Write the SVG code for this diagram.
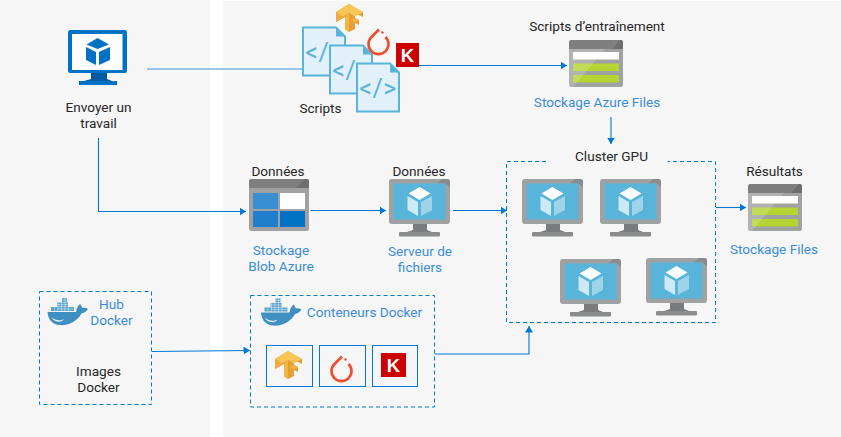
<svg xmlns="http://www.w3.org/2000/svg" width="841" height="437" viewBox="0 0 841 437">
<style>
text{font-family:Roboto,"Open Sans","Liberation Sans",sans-serif;font-size:13.6px;text-anchor:middle;fill:#262626}
.b{fill:#3b8ddb}
.dash{fill:none;stroke:#0078d7;stroke-width:1;stroke-dasharray:4 3}
.c{fill:none;stroke:#0078d7;stroke-width:1.1}
.ar{marker-end:url(#arrow)}
.box{fill:none;stroke:#0078d7;stroke-width:1}
.code{font-size:25px;fill:#59b4d9;font-weight:400;letter-spacing:.5px}
.k{fill:#fff;font-weight:700;font-size:18.500px;font-family:"Liberation Sans",sans-serif}
</style>
<defs>
<marker id="arrow" markerUnits="userSpaceOnUse" markerWidth="7" markerHeight="8" refX="6.5" refY="4" orient="auto"><path d="M0 0L6.5 4L0 8Z" fill="#0078d7"/></marker>
<symbol id="vm" overflow="visible">
<path d="M24 45H38V51L43 53H18L24 51Z" fill="#7a7b7c"/>
<rect x="10" y="53" width="41" height="4.5" rx="1" fill="#8a8b8c"/>
<rect width="61" height="45" rx="3" fill="#a0a1a2"/>
<path d="M48 4.500L53 0H58Q61 0 61 3V8L56.500 4.500Z" fill="#8a8b8c"/>
<rect x="4.500" y="4.500" width="52" height="36" fill="#59b4d9"/>
<path d="M30.500 8L41.500 14.500L30.500 21L19.500 14.500Z" fill="#fff"/>
<path d="M18.500 17L29 23V37L18.500 31Z" fill="#fff" opacity=".7"/>
<path d="M32 23L43 17V31L32 37Z" fill="#fff" opacity=".42"/>
</symbol>
<symbol id="files" overflow="visible">
<rect width="54" height="47" rx="2.500" fill="#a0a1a2"/>
<path d="M0 9V2.500Q0 0 2.500 0H51.500Q54 0 54 2.500V9Z" fill="#7f7f7f"/>
<path d="M43 9L51 0H51.500Q54 0 54 2.500V9Z" fill="#6e6e6e"/>
<rect x="4" y="12" width="46" height="7.500" fill="#fff"/>
<rect x="4" y="23.500" width="46" height="7.500" fill="#b8d432"/>
<rect x="4" y="35" width="46" height="7.500" fill="#b8d432"/>
<path d="M0 9H36L4 47H2.500Q0 47 0 44.500Z" fill="#fff" opacity=".18"/>
</symbol>
<symbol id="doc" overflow="visible">
<path d="M0 0H33L42 9V48H0Z" fill="#e1f0f9" stroke="#59b4d9" stroke-width="2"/>
<path d="M33 0L42 9H33Z" fill="#59b4d9"/>
<text class="code" x="21" y="33">&lt;/&gt;</text>
</symbol>
<symbol id="tf" overflow="visible">
<path d="M0 8L13 0L27 8V13L19 9V14L23 16V21L19 19V25L13 28L9 25V13L0 18Z" fill="#e59f35"/>
<path d="M0 8L13 0L27 8L19 12.500L13 9L7 12.500Z" fill="#f8c557"/>
<path d="M13 9V28L9 25V13Z M19 14L23 16L19 18.500L15 16Z" fill="#f3b544"/>
<path d="M0 8L7 12.500V14L0 18Z" fill="#f0ad3f"/>
</symbol>
<symbol id="torch" overflow="visible">
<path d="M11.500 0.500L4 8A10 10 0 1 0 18 8" fill="none" stroke="#ee4c2c" stroke-width="2.600"/>
<circle cx="15" cy="3.500" r="1.200" fill="#ee4c2c"/>
</symbol>
<symbol id="whale" overflow="visible">
<path d="M0.500 14H29C29.500 10 31 8 33 6C34.500 8 35 9 35.500 10C37.500 9.500 39.500 10 41 11C39 14 36.500 15 34.500 15.500C30 24 20 28 12 27C4 26 1 20 0.500 14Z" fill="#3f8fc0"/>
<path d="M4 19C9 23 14 23 17 21C15 25 8 25 4 19Z" fill="#fff" opacity=".85"/>
<path d="M4 9H27V13H4ZM10 4.500H21V8.500H10ZM15 0H20V4H15Z" fill="#5ba3cf"/>
<path d="M7.500 9V13M11 4.500V13M14.500 4.500V13M18 0V13M21.500 9V13M10 11H27M10 6.500H21M15 2H20" stroke="#fff" stroke-width=".4" fill="none"/>
</symbol>
</defs>
<rect width="841" height="437" fill="#fff"/>
<rect x="0" y="0" width="210" height="437" fill="#f6f6f6"/>
<rect x="223" y="1" width="618" height="436" fill="#f6f6f6"/>

<g id="connectors">
<path d="M147 69H302" fill="none" stroke="#7ab4ea" stroke-width="1.600"/>
<path class="c ar" d="M419 65.500H567"/>
<path class="c ar" d="M611 117V144"/>
<path class="c ar" d="M98.500 138V211.500H246"/>
<path class="c ar" d="M310.500 210.500H386"/>
<path class="c ar" d="M453 210.500H507"/>
<path class="c ar" d="M716 207.500H746"/>
<path class="c ar" d="M152 351.500L250 350.500"/>
<path class="c ar" d="M435 354H529V326"/>
</g>

<g id="job">
<path d="M91 73H107V79L112 81H84L91 79Z" fill="#005ba1"/>
<rect x="79" y="81" width="38" height="4" fill="#0072c6"/>
<rect x="68" y="30" width="59" height="43" rx="2.500" fill="#0072c6"/>
<rect x="72" y="34" width="50.500" height="36" fill="#fff"/>
<path d="M97.500 38L109 44.500L97.500 49L86.500 44.500Z" fill="#0072c6"/>
<path d="M86 47L96 52V65L86 60Z" fill="#0072c6"/>
<path d="M99 52L110 47V60L99 65Z" fill="#0072c6"/>
<text x="98.500" y="112">Envoyer un</text>
<text x="98.500" y="128">travail</text>
</g>

<g id="scripts">
<use href="#tf" x="336" y="4"/>
<use href="#doc" x="303" y="27.500"/>
<use href="#doc" x="330" y="45.500"/>
<use href="#torch" x="367.500" y="29"/>
<use href="#doc" x="357" y="63.500"/>
<rect x="396" y="43" width="23" height="24" fill="#cc0000"/>
<text class="k" x="407.500" y="62">K</text>
<text x="320.500" y="113">Scripts</text>
</g>

<g id="azure-files">
<text x="597" y="30.700">Scripts d’entraînement</text>
<use href="#files" x="569" y="40"/>
<text class="b" x="597" y="106.700">Stockage Azure Files</text>
</g>

<g id="blob">
<text x="278" y="175.700">Données</text>
<rect x="249" y="179" width="60" height="52" rx="2.500" fill="#a0a1a2"/>
<path d="M249 188V181.500Q249 179 251.500 179H306.500Q309 179 309 181.500V188Z" fill="#7f7f7f"/>
<path d="M296 188L305 179H306.500Q309 179 309 181.500V188Z" fill="#6e6e6e"/>
<rect x="253" y="193" width="25" height="16" fill="#3a8fd3"/>
<rect x="280" y="193" width="25" height="16" fill="#fff"/>
<rect x="253" y="211" width="25" height="16" fill="#1f7fcc"/>
<rect x="280" y="211" width="25" height="16" fill="#0072c6"/>
<text class="b" x="281" y="255">Stockage</text>
<text class="b" x="281" y="271">Blob Azure</text>
</g>

<g id="file-server">
<text x="419" y="175.700">Données</text>
<use href="#vm" x="389" y="179"/>
<text class="b" x="420" y="256">Serveur de</text>
<text class="b" x="420" y="272">fichiers</text>
</g>

<g id="cluster">
<text x="611.500" y="160.700">Cluster GPU</text>
<path class="dash" d="M546 161.500H506.500V322.500H715.500V161.500H667.500"/>
<use href="#vm" x="522" y="179"/>
<use href="#vm" x="600" y="179"/>
<use href="#vm" x="560" y="259"/>
<use href="#vm" x="646" y="258"/>
</g>

<g id="results">
<text x="774.500" y="175.700">Résultats</text>
<use href="#files" x="748" y="184"/>
<text class="b" x="774" y="254">Stockage Files</text>
</g>

<g id="docker-hub">
<rect class="dash" x="39.500" y="291.500" width="112" height="113"/>
<use href="#whale" x="47" y="298"/>
<text class="b" x="111.500" y="308.500">Hub</text>
<text class="b" x="111.500" y="324.500">Docker</text>
<text x="98.500" y="375.700">Images</text>
<text x="98.500" y="391.700">Docker</text>
</g>

<g id="docker-containers">
<rect class="dash" x="250.500" y="295.500" width="184" height="111.500"/>
<use href="#whale" x="260.500" y="298.500"/>
<text class="b" x="364.500" y="316.700">Conteneurs Docker</text>
<rect class="box" x="266.500" y="345.500" width="46" height="41"/>
<rect class="box" x="319.500" y="345.500" width="46" height="41"/>
<rect class="box" x="372.500" y="345.500" width="45" height="41"/>
<use href="#tf" x="275" y="351"/>
<use href="#torch" x="330.500" y="356"/>
<rect x="381" y="353" width="25" height="24" fill="#cc0000"/>
<text class="k" x="393.500" y="372">K</text>
</g>
</svg>
